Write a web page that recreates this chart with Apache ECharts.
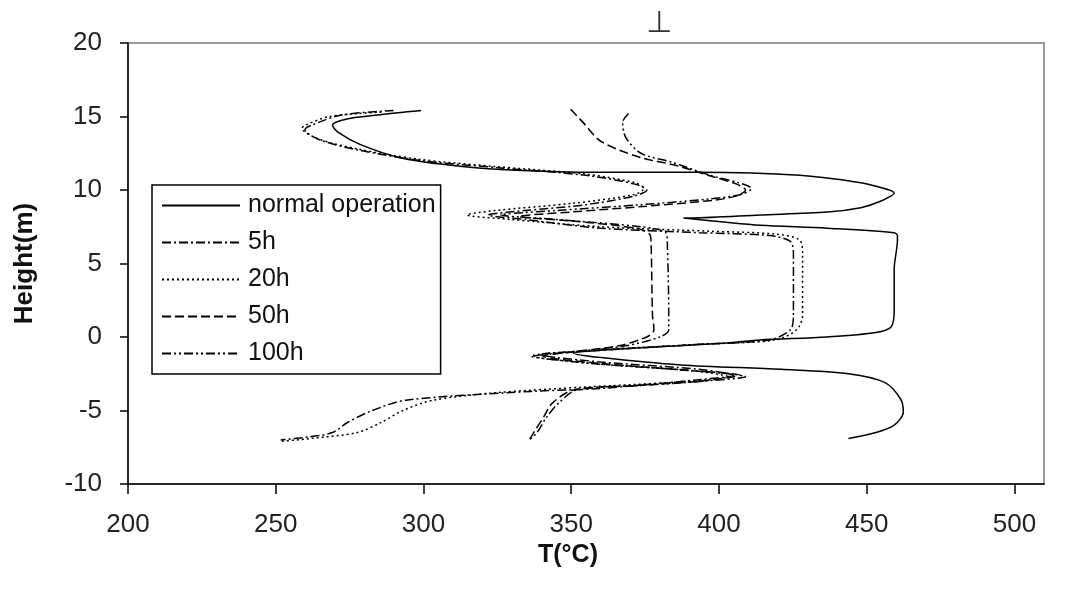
<!DOCTYPE html>
<html>
<head>
<meta charset="utf-8">
<script src="https://cdn.jsdelivr.net/npm/echarts@6/dist/echarts.min.js"></script>
<style>
  html, body { margin: 0; padding: 0; background: #fff; }
  #chart { width: 1073px; height: 601px; }
</style>
</head>
<body>
<div id="chart"></div>
<script>
// temperature (T, °C) and height (m) along each curve, top to bottom
var normalT = [299.2, 284.7, 273.4, 269.2, 271.3, 278.5, 292.0, 308.5, 326.1, 360.1, 393.2, 427.3, 448.0, 454.2, 459.3, 454.2, 448.0, 436.6, 413.9, 391.1, 388.0, 402.5, 413.9, 436.6, 459.3, 460.4, 460.4, 459.3, 459.3, 458.3, 453.1, 436.6, 413.9, 402.5, 376.7, 360.1, 350.8, 360.1, 387.0, 421.1, 443.8, 456.2, 461.4, 462.4, 459.3, 453.1, 443.8];
var normalH = [15.4, 15.1, 14.8, 14.4, 13.9, 13.1, 12.2, 11.7, 11.4, 11.2, 11.2, 11.0, 10.5, 10.2, 9.8, 9.2, 8.8, 8.5, 8.3, 8.1, 8.1, 7.8, 7.6, 7.4, 7.1, 6.9, 6.6, 4.6, 1.8, 0.7, 0.3, 0.0, -0.2, -0.4, -0.7, -0.9, -1.1, -1.4, -1.9, -2.2, -2.5, -3.1, -4.2, -5.1, -6.0, -6.5, -6.9];

var h5T = [289.9, 272.3, 262.0, 259.9, 265.1, 278.5, 299.2, 326.1, 354.9, 371.5, 375.6, 371.5, 354.9, 334.3, 321.9, 334.3, 360.1, 393.2, 417.0, 424.2, 425.2, 425.2, 424.2, 417.0, 393.2, 360.1, 339.5, 360.1, 393.2, 405.0, 393.2, 360.1, 336.4, 294.0, 282.7, 274.4, 269.2, 261.0, 251.7];
var h5H = [15.4, 15.1, 14.4, 14.1, 13.4, 12.7, 12.0, 11.5, 11.0, 10.4, 10.0, 9.6, 9.0, 8.6, 8.3, 8.0, 7.4, 7.1, 6.9, 6.5, 5.6, 1.5, 0.5, -0.2, -0.5, -0.9, -1.2, -1.7, -2.2, -2.6, -2.9, -3.5, -3.7, -4.3, -5.0, -5.8, -6.5, -6.8, -7.0];

var h20T = [285.8, 268.2, 259.9, 258.9, 264.1, 277.5, 298.2, 324.0, 354.0, 371.5, 374.6, 371.5, 350.8, 324.0, 314.7, 329.2, 360.1, 396.3, 419.0, 427.3, 428.3, 428.3, 426.3, 419.0, 393.2, 357.0, 336.4, 357.0, 391.1, 403.0, 391.1, 355.0, 324.0, 303.3, 293.0, 285.8, 277.5, 262.0, 251.7];
var h20H = [15.3, 15.0, 14.4, 14.2, 13.5, 12.8, 12.1, 11.6, 11.1, 10.5, 10.1, 9.7, 9.1, 8.6, 8.3, 8.0, 7.5, 7.2, 7.0, 6.6, 5.6, 1.5, 0.5, -0.2, -0.5, -0.9, -1.3, -1.8, -2.3, -2.7, -3.0, -3.4, -3.8, -4.3, -5.0, -5.8, -6.5, -6.9, -7.1];

var h50T = [349.8, 354.0, 360.1, 373.6, 384.9, 398.0, 406.0, 409.0, 406.0, 398.0, 375.6, 349.8, 332.3, 349.8, 372.0, 376.5, 377.0, 377.5, 378.0, 375.5, 366.0, 350.8, 340.5, 360.1, 391.1, 407.0, 394.0, 371.5, 350.8, 343.6, 340.5, 337.3, 335.3];
var h50H = [15.5, 14.6, 13.3, 12.2, 11.7, 10.9, 10.4, 10.0, 9.6, 9.3, 8.9, 8.5, 8.2, 7.9, 7.4, 7.0, 6.5, 1.5, 0.5, 0.0, -0.6, -1.0, -1.3, -1.8, -2.3, -2.6, -3.0, -3.3, -3.6, -4.5, -5.5, -6.5, -7.2];

var h100T = [369.4, 367.4, 368.4, 373.6, 383.9, 397.0, 406.5, 411.0, 407.5, 397.0, 373.6, 344.6, 326.1, 344.6, 373.6, 382.0, 382.5, 383.0, 383.0, 380.0, 368.4, 351.9, 337.4, 357.0, 392.0, 409.0, 395.0, 373.6, 351.9, 345.7, 341.5, 338.4, 335.3];
var h100H = [15.2, 14.6, 13.6, 12.5, 11.9, 11.0, 10.5, 10.1, 9.7, 9.4, 9.0, 8.6, 8.3, 8.0, 7.5, 7.1, 6.5, 1.5, 0.5, 0.0, -0.6, -1.0, -1.3, -1.8, -2.3, -2.7, -3.0, -3.3, -3.6, -4.5, -5.5, -6.5, -7.1];

var xTicks = [200, 250, 300, 350, 400, 450, 500];
var yTicks = [-10, -5, 0, 5, 10, 15, 20];

function pairs(t, h) {
    var out = [];
    for (var i = 0; i < t.length; i++) {
        out.push([t[i], h[i]]);
    }
    return out;
}

var font = 'Liberation Sans, Arial, sans-serif';

function line(name, t, h, type) {
    return {
        name: name,
        type: 'line',
        data: pairs(t, h),
        symbol: 'none',
        smooth: 0.3,
        lineStyle: { color: '#000', width: 1.5, type: type },
        itemStyle: { color: '#000' },
        z: 3
    };
}

var chart = echarts.init(document.getElementById('chart'));
chart.setOption({
    animation: false,
    backgroundColor: '#fff',
    grid: {
        left: 128, right: 29, top: 43, bottom: 117,
        show: true, borderColor: '#9a9a9a', borderWidth: 2
    },
    legend: {
        orient: 'vertical',
        left: 152, top: 185,
        padding: [8, 5, 8, 9],
        borderColor: '#000', borderWidth: 1.5,
        itemWidth: 78, itemHeight: 14, itemGap: 12,
        itemStyle: { opacity: 0 },
        textStyle: { fontFamily: font, fontSize: 25, color: '#111', padding: [0, 0, 0, 3] },
        data: ['normal operation', '5h', '20h', '50h', '100h']
    },
    xAxis: {
        type: 'value',
        // the frame reaches a little past the last labelled tick
        min: 200, max: 510, interval: 50,
        name: 'T(°C)', nameLocation: 'middle', nameGap: 58,
        nameTextStyle: { fontFamily: font, fontSize: 25, fontWeight: 'bold', color: '#111', padding: [0, 36, 0, 0] },
        axisLine: { onZero: false, lineStyle: { color: '#000', width: 1.5 } },
        axisTick: { length: 10, customValues: xTicks, lineStyle: { color: '#000', width: 1.5 } },
        axisLabel: { fontFamily: font, fontSize: 26, color: '#222', margin: 28, customValues: xTicks },
        splitLine: { show: false }
    },
    yAxis: {
        type: 'value',
        min: yTicks[0], max: yTicks[yTicks.length - 1], interval: 5,
        name: 'Height(m)', nameLocation: 'middle', nameGap: 90,
        nameTextStyle: { fontFamily: font, fontSize: 26, fontWeight: 'bold', color: '#111' },
        axisLine: { onZero: false, lineStyle: { color: '#000', width: 1.5 } },
        axisTick: { length: 8, lineStyle: { color: '#000', width: 1.5 } },
        axisLabel: { fontFamily: font, fontSize: 26, color: '#222', margin: 26 },
        splitLine: { show: false }
    },
    graphic: [{
        type: 'text', left: 646, top: 9,
        style: { text: '⊥', font: '30px DejaVu Sans', fill: '#333' }
    }],
    series: [
        line('normal operation', normalT, normalH, 'solid'),
        line('5h', h5T, h5H, [9, 3, 2, 3]),
        line('20h', h20T, h20H, [2, 3]),
        line('50h', h50T, h50H, [9, 4]),
        line('100h', h100T, h100H, [9, 3, 2, 3, 2, 3])
    ]
});
</script>
</body>
</html>
